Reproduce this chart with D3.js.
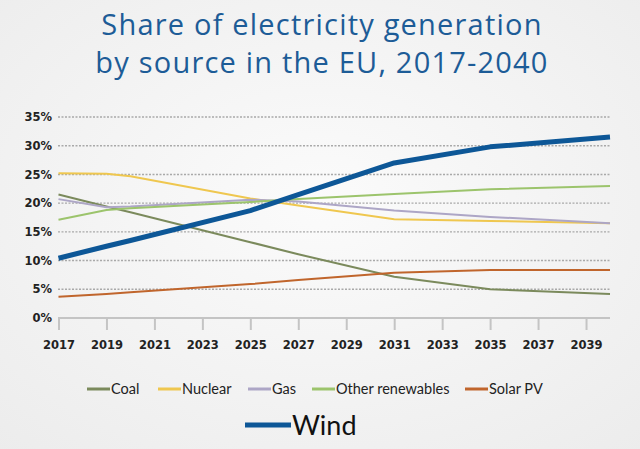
<!DOCTYPE html>
<html>
<head>
<meta charset="utf-8">
<script src="https://cdn.jsdelivr.net/npm/d3@7"></script>
<style>
  html, body { margin: 0; padding: 0; }
  body { width: 640px; height: 449px; overflow: hidden; }
</style>
</head>
<body>
<svg id="chart" width="640" height="449"></svg>
<script>
// values (percent share)
const years = [2017, 2019, 2020, 2025, 2027, 2031, 2035, 2040];
const coal = [21.5, 19.4, 18.4, 13.2, 11.1, 7.2, 5.0, 4.2];
const nuclear = [25.2, 25.1, 24.7, 20.8, 19.6, 17.2, 16.9, 16.5];
const gas = [20.7, 19.3, 19.4, 20.6, 20.3, 18.7, 17.6, 16.5];
const otherRenewables = [17.1, 18.8, 19.1, 20.2, 20.7, 21.6, 22.4, 23.0];
const solarPV = [3.7, 4.2, 4.5, 5.9, 6.6, 7.9, 8.35, 8.35];
const wind = [10.4, 12.5, 13.5, 18.7, 21.5, 27.0, 29.8, 31.5];

const yTicks = [0, 5, 10, 15, 20, 25, 30, 35];
const xTicks = [2017, 2019, 2021, 2023, 2025, 2027, 2029, 2031, 2033, 2035, 2037, 2039];
const titleLines = ["Share of electricity generation", "by source in the EU, 2017-2040"];

const series = [
  { name: "Coal", values: coal, color: "#7b8a5c" },
  { name: "Nuclear", values: nuclear, color: "#efc74f" },
  { name: "Gas", values: gas, color: "#ada6c6" },
  { name: "Other renewables", values: otherRenewables, color: "#9cc46c" },
  { name: "Solar PV", values: solarPV, color: "#c0652c" }
];
const windSeries = { name: "Wind", values: wind, color: "#0d5797" };

const svg = d3.select("#chart");

// soft background
const defs = svg.append("defs");
const grad = defs.append("radialGradient").attr("id", "bg").attr("cx", "50%").attr("cy", "45%").attr("r", "75%");
grad.append("stop").attr("offset", "0%").attr("stop-color", "#fbfbfb");
grad.append("stop").attr("offset", "100%").attr("stop-color", "#ececec");
svg.append("rect").attr("width", 640).attr("height", 449).attr("fill", "url(#bg)");

svg.selectAll(".title")
  .data(titleLines)
  .join("text")
  .attr("class", "title")
  .attr("x", 322)
  .attr("y", (d, i) => 34.5 + i * 38)
  .attr("text-anchor", "middle")
  .attr("fill", "#1d5c97")
  .style("font-family", "'Open Sans', sans-serif")
  .style("font-size", "29px")
  .style("letter-spacing", "1.2px")
  .text(d => d);

const x = d3.scaleLinear().domain([2017, 2040]).range([58.5, 610]);
const y = d3.scaleLinear().domain([0, 35]).range([318, 117]);

// dotted gridlines
svg.append("g")
  .selectAll("line")
  .data(yTicks.filter(d => d > 0))
  .join("line")
  .attr("x1", 58).attr("x2", 611)
  .attr("y1", d => y(d)).attr("y2", d => y(d))
  .attr("stroke", "#a9a9a9")
  .attr("stroke-width", 1.4)
  .attr("stroke-dasharray", "2,1.5");

// y axis labels only
const gy = svg.append("g").attr("transform", "translate(58,0)")
  .call(d3.axisLeft(y).tickValues(yTicks).tickFormat(d => d + "%").tickSize(0).tickPadding(6));
gy.select(".domain").remove();
gy.selectAll("text")
  .attr("fill", "#222")
  .style("font-family", "'DejaVu Sans', sans-serif")
  .style("font-weight", "bold")
  .style("font-size", "11.5px");

// x axis
const gx = svg.append("g").attr("transform", "translate(0,318)")
  .call(d3.axisBottom(x).tickValues(xTicks).tickFormat(d3.format("d")).tickSize(12).tickSizeOuter(0).tickPadding(11));
gx.select(".domain").attr("stroke", "#c4c4c4").attr("stroke-width", 2).attr("d", `M58,0H610`);
gx.selectAll(".tick line").attr("stroke", "#c4c4c4").attr("stroke-width", 2);
gx.selectAll("text")
  .attr("fill", "#222")
  .style("font-family", "'DejaVu Sans', sans-serif")
  .style("font-weight", "bold")
  .style("font-size", "11.5px");

const line = d3.line()
  .x((d, i) => x(years[i]))
  .y(d => y(d));

svg.append("g")
  .selectAll("path")
  .data(series)
  .join("path")
  .attr("d", d => line(d.values))
  .attr("fill", "none")
  .attr("stroke", d => d.color)
  .attr("stroke-width", 2);

svg.append("path")
  .attr("d", line(windSeries.values))
  .attr("fill", "none")
  .attr("stroke", windSeries.color)
  .attr("stroke-width", 5)
  .attr("stroke-linejoin", "round");

// legend row
const legendX = [87, 158, 248, 312, 465];
const legend = svg.append("g")
  .selectAll("g")
  .data(series)
  .join("g")
  .attr("transform", (d, i) => `translate(${legendX[i]},389)`);
legend.append("line")
  .attr("x1", 0).attr("x2", 23)
  .attr("stroke", d => d.color)
  .attr("stroke-width", 3);
legend.append("text")
  .attr("x", 24)
  .attr("dy", "0.35em")
  .attr("fill", "#222")
  .style("font-family", "Lato, sans-serif")
  .style("font-size", "14.5px")
  .text(d => d.name);

const wl = svg.append("g").attr("transform", "translate(245,425)");
wl.append("line")
  .attr("x1", 0).attr("x2", 46)
  .attr("stroke", windSeries.color)
  .attr("stroke-width", 5);
wl.append("text")
  .attr("x", 47)
  .attr("dy", "0.36em")
  .attr("fill", "#111")
  .style("font-family", "Lato, sans-serif")
  .style("font-size", "27px")
  .text(windSeries.name);
</script>
</body>
</html>
